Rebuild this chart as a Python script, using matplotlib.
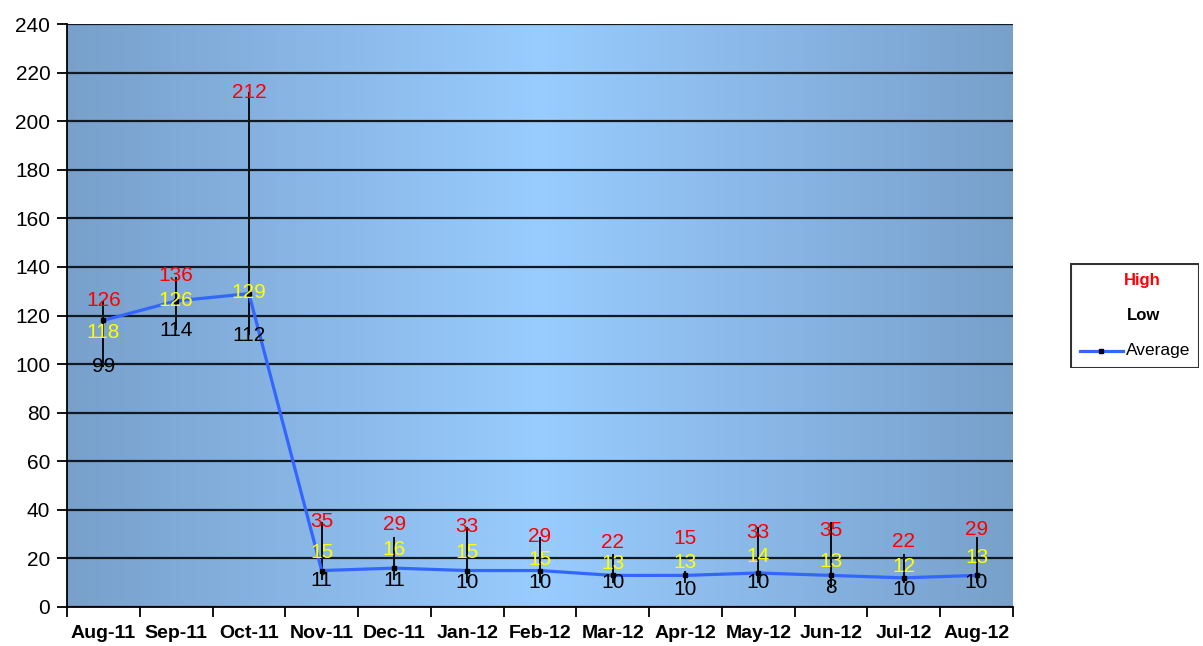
import numpy as np
import matplotlib.pyplot as plt
from matplotlib.colors import LinearSegmentedColormap
from matplotlib.lines import Line2D
from matplotlib.patches import Rectangle

plt.rcParams['font.family'] = ['Liberation Sans', 'DejaVu Sans']

months = ['Aug-11', 'Sep-11', 'Oct-11', 'Nov-11', 'Dec-11', 'Jan-12', 'Feb-12',
          'Mar-12', 'Apr-12', 'May-12', 'Jun-12', 'Jul-12', 'Aug-12']
high = [126, 136, 212, 35, 29, 33, 29, 22, 15, 33, 35, 22, 29]
average = [118, 126, 129, 15, 16, 15, 15, 13, 13, 14, 13, 12, 13]
low = [99, 114, 112, 11, 11, 10, 10, 10, 10, 10, 8, 10, 10]

# label nudges in pixels (up is positive), mimicking excel's placement
high_nudge = [0, 1, 0, 0, 12, 0, 0, 11, 32, -6, -9, 12, 7]
avg_nudge = [-12, 0, 1, 18, 19, 18, 11, 12, 13, 16, 14, 11, 18]
low_nudge = [0, 0, -1, 0, 0, 0, 0, 0, -7, 0, 0, -7, 0]

x = np.arange(len(months))

fig = plt.figure(figsize=(12.03, 6.46), dpi=100)
ax = fig.add_axes([0.0557, 0.0604, 0.7863, 0.9024])

# horizontal gradient background
cmap = LinearSegmentedColormap.from_list('bg', ['#78a0cb', '#99ccff', '#78a0cb'])
grad = np.linspace(0, 1, 256).reshape(1, -1)
ax.imshow(grad, cmap=cmap, aspect='auto', extent=[-0.5, 12.5, 0, 240], zorder=0)

ax.set_xlim(-0.5, 12.5)
ax.set_ylim(0, 240)
ax.set_yticks(np.arange(0, 241, 20))
ax.yaxis.grid(True, color='#111a22', linewidth=1.6, zorder=1)
ax.set_axisbelow(False)

ax.vlines(x, low, high, color='black', linewidth=1.3, zorder=2)
ax.plot(x, average, color='#3366ff', linewidth=2.3, marker='s', markersize=2.5,
        markerfacecolor='black', markeredgecolor='black', zorder=3)

pt = 0.72
for i in x:
    ax.annotate(str(high[i]), (i, high[i]), xytext=(0, high_nudge[i] * pt),
                textcoords='offset points', ha='center', va='center',
                color='#ff0000', fontsize=15, zorder=5)
    ax.annotate(str(average[i]), (i, average[i]), xytext=(0, avg_nudge[i] * pt),
                textcoords='offset points', ha='center', va='center',
                color='#ffff00', fontsize=15, zorder=5)
    ax.annotate(str(low[i]), (i, low[i]), xytext=(0, low_nudge[i] * pt),
                textcoords='offset points', ha='center', va='center',
                color='black', fontsize=15, zorder=5)

ax.set_xticks(np.arange(-0.5, 13, 1))
ax.set_xticklabels([])
ax.set_xticks(x, minor=True)
ax.set_xticklabels(months, minor=True, fontweight='bold', fontsize=14)
ax.tick_params(axis='x', which='major', length=7, width=1.3, direction='out')
ax.tick_params(axis='x', which='minor', length=0, pad=13)
ax.tick_params(axis='y', length=7, width=1.3, labelsize=15, pad=5)

for s in ['top', 'right']:
    ax.spines[s].set_visible(False)
for s in ['left', 'bottom']:
    ax.spines[s].set_linewidth(1.3)
    ax.spines[s].set_zorder(4)

# legend box
lax = fig.add_axes([1070 / 1203, 1 - 368 / 646, 129 / 1203, 105 / 646])
lax.set_xlim(0, 129)
lax.set_ylim(105, 0)
lax.axis('off')
lax.add_patch(Rectangle((0.5, 0.5), 128, 104, fill=False, edgecolor='#333333', linewidth=1.5))
lax.text(72, 17, 'High', color='#ff0000', fontweight='bold', fontsize=12, ha='center', va='center')
lax.text(73, 53, 'Low', color='black', fontweight='bold', fontsize=12, ha='center', va='center')
lax.add_line(Line2D([10, 53], [88, 88], color='#3366ff', linewidth=2.3))
lax.plot([31], [88], marker='s', markersize=2.5, color='black')
lax.text(56, 88, 'Average', color='black', fontsize=12.5, ha='left', va='center')

fig.savefig('out.png', dpi=100)
